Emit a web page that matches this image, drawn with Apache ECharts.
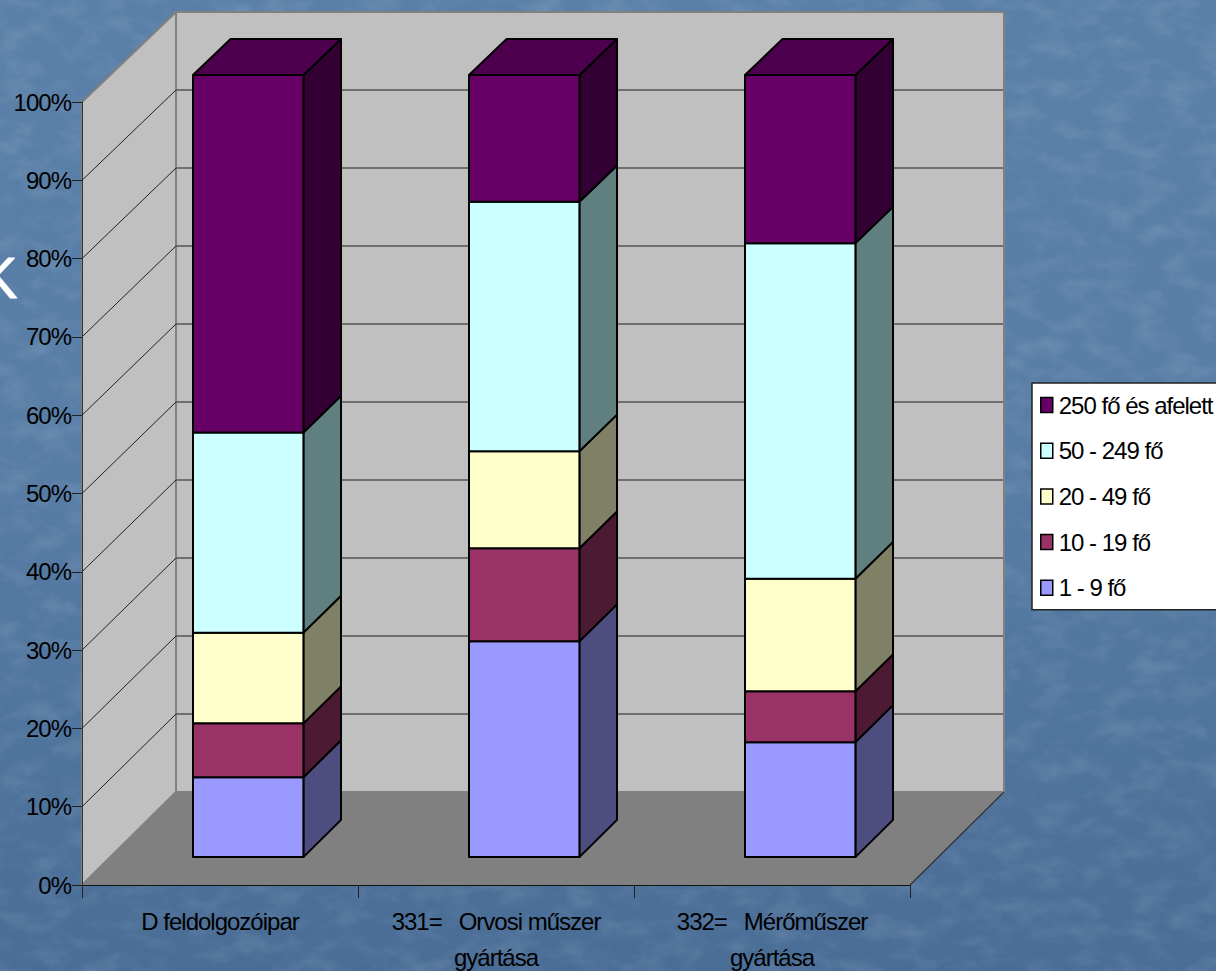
<!DOCTYPE html>
<html><head><meta charset="utf-8">
<style>
html,body{margin:0;padding:0;width:1216px;height:971px;overflow:hidden;}
body{background:linear-gradient(180deg,#5a80a8 0%,#587da6 45%,#4f749d 75%,#4a6d96 100%);position:relative;}
#tex{position:absolute;left:0;top:0;width:1216px;height:971px;}
#chart{position:absolute;left:0;top:0;width:1216px;height:971px;}
#chart text{letter-spacing:-1px;white-space:pre;}
</style>
<script src="https://cdn.jsdelivr.net/npm/echarts@6/dist/echarts.min.js"></script>
</head><body>
<svg id="tex" xmlns="http://www.w3.org/2000/svg"><filter id="f" x="0" y="0" width="100%" height="100%"><feTurbulence type="fractalNoise" baseFrequency="0.03 0.05" numOctaves="4" seed="7"/><feColorMatrix type="matrix" values="0 0 0 0 1  0 0 0 0 1  0 0 0 0 1  1.6 0 0 0 -0.68"/></filter><rect width="1216" height="971" filter="url(#f)" opacity="0.14"/></svg>
<div id="chart"></div>
<script>
const categories = ['D feldolgozóipar', '331=   Orvosi műszer\ngyártása', '332=   Mérőműszer\ngyártása'];
const seriesNames = ['1 - 9 fő', '10 - 19 fő', '20 - 49 fő', '50 - 249 fő', '250 fő és afelett'];
const size1to9 = [10.2, 27.6, 14.7];
const size10to19 = [6.9, 11.9, 6.5];
const size20to49 = [11.6, 12.4, 14.4];
const size50to249 = [25.6, 31.9, 42.9];
const size250plus = [45.7, 16.2, 21.5];
const tickValues = [0, 10, 20, 30, 40, 50, 60, 70, 80, 90, 100];
const frontColors = ['#9999ff', '#993366', '#ffffcc', '#ccffff', '#660066'];
const sideColors = ['#4d4d80', '#4d1a33', '#808066', '#608080', '#330033'];
const topColor = '#4d004d';

const allSeries = [size1to9, size10to19, size20to49, size50to249, size250plus];
const DX = 94;
const depth = (x, y, v, t) => [x + DX * t, y - (93 - 3 * v / 100) * t];
const poly = (points, fill, stroke, w) => ({
  type: 'polygon', shape: { points },
  style: { fill, stroke: stroke || 'none', lineWidth: w || 0, lineJoin: 'round' }
});
const line = (a, b, stroke, w) => ({
  type: 'line', shape: { x1: a[0], y1: a[1], x2: b[0], y2: b[1] },
  style: { stroke, lineWidth: w, fill: 'none' }
});

function renderWalls(params, api) {
  const c = params.coordSys;
  const L = c.x, R = c.x + c.width;
  const Y = v => api.coord([0, v])[1];
  const fl = depth(L, Y(0), 0, 1), fr = depth(R, Y(0), 0, 1);
  const tl = depth(L, Y(100), 100, 1), tr = depth(R, Y(100), 100, 1);
  const children = [
    poly([tl, tr, fr, fl], '#c0c0c0', '#808080', 2),
    poly([[L, Y(100)], tl, fl, [L, Y(0)]], '#c0c0c0', '#808080', 2),
    poly([[L, Y(0)], [R, Y(0)], fr, fl], '#808080')
  ];
  tickValues.forEach(v => {
    if (v === 0 || v === 100) return;
    children.push(line([L, Y(v)], depth(L, Y(v), v, 1), '#222222', 1));
    children.push(line(depth(L, Y(v), v, 1), depth(R, Y(v), v, 1), '#555555', 1.3));
  });
  children.push(line([R, Y(0)], fr, '#333333', 1.2));
  children.push(line(fr, tr, '#808080', 2));
  return { type: 'group', children };
}

function renderSegment(level) {
  return function (params, api) {
    const cat = api.value(0), v0 = api.value(1), v1 = api.value(2);
    const cx = api.coord([cat, 0])[0];
    const hw = api.size([1, 0])[0] * 0.2;
    const y0 = api.coord([cat, v0])[1], y1 = api.coord([cat, v1])[1];
    const a0 = depth(cx - hw, y0, v0, 0.3), b0 = depth(cx + hw, y0, v0, 0.3);
    const a1 = depth(cx - hw, y1, v1, 0.3), b1 = depth(cx + hw, y1, v1, 0.3);
    const c0 = depth(cx + hw, y0, v0, 0.7), c1 = depth(cx + hw, y1, v1, 0.7);
    const d1 = depth(cx - hw, y1, v1, 0.7);
    const kids = [
      poly([b0, c0, c1, b1], sideColors[level], '#000', 2),
      poly([a0, b0, b1, a1], frontColors[level], '#000', 2)
    ];
    if (level === allSeries.length - 1) kids.push(poly([a1, b1, c1, d1], topColor, '#000', 2));
    return { type: 'group', children: kids };
  };
}

const running = categories.map(() => 0);
const barSeries = seriesNames.map((name, level) => ({
  name, type: 'custom', z: 3 + level, clip: false,
  coordinateSystem: 'cartesian2d',
  itemStyle: { color: frontColors[level], borderColor: '#000', borderWidth: 1.5 },
  renderItem: renderSegment(level),
  encode: { x: 0, y: [1, 2] },
  data: allSeries[level].map((v, i) => {
    const s = running[i]; running[i] += v;
    return [i, s, running[i]];
  })
}));

const chart = echarts.init(document.getElementById('chart'), null, { renderer: 'svg', width: 1216, height: 971 });
chart.setOption({
  animation: false,
  backgroundColor: 'transparent',
  textStyle: { fontFamily: '"Liberation Sans", Arial, sans-serif' },
  graphic: [{
    type: 'text', left: -21, top: 249, silent: true,
    style: { text: 'K', fill: '#ffffff', stroke: '#ffffff', lineWidth: 1, font: '57px "Liberation Sans", Arial, sans-serif' }
  }],
  grid: { left: 82, right: 306, top: 102, bottom: 86, outerBoundsMode: 'none' },
  legend: {
    data: seriesNames.slice().reverse(),
    orient: 'vertical', left: 1032, top: 383,
    padding: [10, 8, 10, 8], itemGap: 21.7,
    itemWidth: 12, itemHeight: 15, icon: 'rect',
    backgroundColor: '#ffffff', borderColor: '#222222', borderWidth: 1.5,
    selectedMode: false,
    itemStyle: { borderColor: '#000', borderWidth: 1.5 },
    textStyle: { fontSize: 24, color: '#000', padding: [0, 0, 0, 1] }
  },
  xAxis: {
    type: 'category', data: categories, z: 8,
    axisLine: { lineStyle: { color: '#111', width: 1 } },
    axisTick: { show: true, length: 13, alignWithLabel: false, lineStyle: { color: '#222' } },
    axisLabel: { interval: 0, fontSize: 24, color: '#000', margin: 18, lineHeight: 36 },
    splitLine: { show: false }
  },
  yAxis: {
    type: 'value', min: 0, max: 100, interval: 10, z: 8,
    axisLine: { show: true, lineStyle: { color: '#333', width: 1 } },
    axisTick: { show: true, length: 10, lineStyle: { color: '#222' } },
    axisLabel: { fontSize: 24, color: '#000', margin: 11, formatter: '{value}%' },
    splitLine: { show: false }
  },
  tooltip: { show: false },
  series: [{
    type: 'custom', z: 1, clip: false, coordinateSystem: 'cartesian2d',
    renderItem: renderWalls, silent: true, data: [[0, 0]]
  }].concat(barSeries)
});
</script>
</body></html>
